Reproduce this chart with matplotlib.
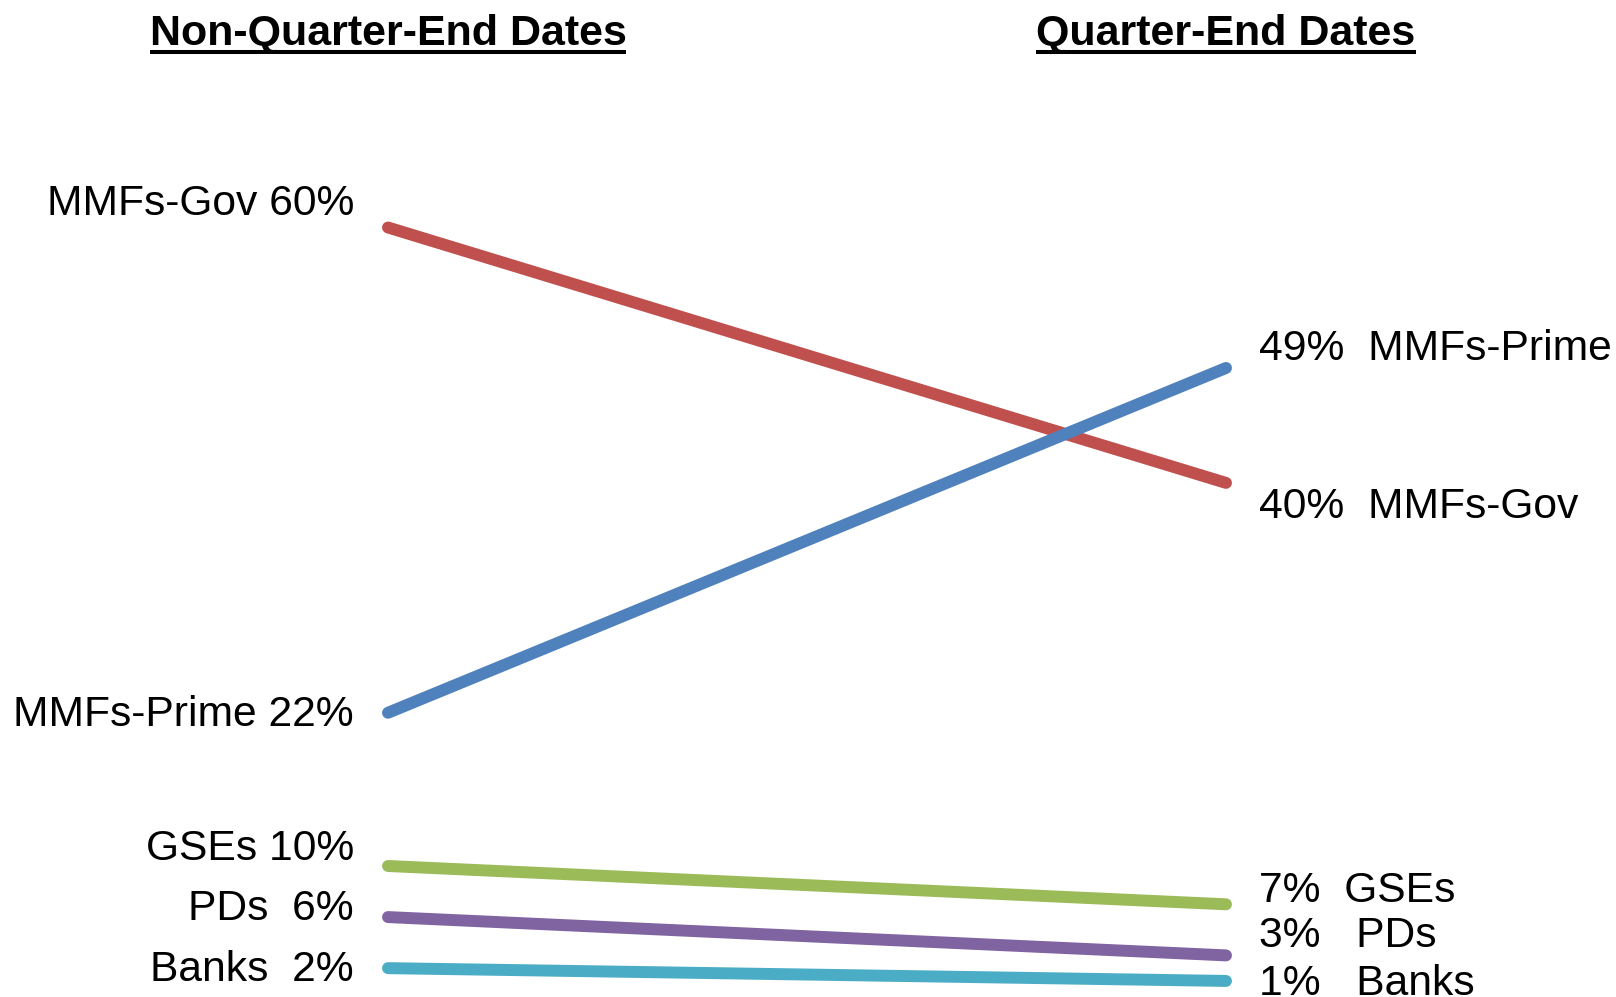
import matplotlib
matplotlib.use("Agg")
import matplotlib.pyplot as plt
from matplotlib.lines import Line2D

plt.rcParams['font.family'] = ['Liberation Sans', 'DejaVu Sans']

# ---- data ----
periods = ["Non-Quarter-End Dates", "Quarter-End Dates"]
series = ["MMFs-Gov", "MMFs-Prime", "GSEs", "PDs", "Banks"]
non_qe = [60, 22, 10, 6, 2]
qe = [40, 49, 7, 3, 1]
left_labels = ["MMFs-Gov 60%", "MMFs-Prime 22%", "GSEs 10%", "PDs  6%", "Banks  2%"]
right_labels = ["40%  MMFs-Gov", "49%  MMFs-Prime", "7%  GSEs", "3%   PDs", "1%   Banks"]
colors = ["#C0504D", "#4F81BD", "#9BBB59", "#8064A2", "#4BACC6"]

# label baseline offsets in pixels (positive = downward)
left_off = [-12.7, 13, -5.7, 3, 13]
right_off = [35.3, -7.5, -2, -8.3, 14]

W, H, DPI = 1616, 997, 100
fig = plt.figure(figsize=(W / DPI, H / DPI), dpi=DPI)
x0, x1 = 388, 1226
ytop, ybot = 227.5, 993.7
ax = fig.add_axes([x0 / W, (H - ybot) / H, (x1 - x0) / W, (ybot - ytop) / H])
ax.set_xlim(0, 1)
ax.set_ylim(0, 60)
ax.axis('off')

for name, a, b, c in zip(series, non_qe, qe, colors):
    ax.plot([0, 1], [a, b], color=c, lw=8.6, solid_capstyle='round', clip_on=False)

for lab, v, off in zip(left_labels, non_qe, left_off):
    ax.annotate(lab, xy=(0, v), xytext=(-34, -off), textcoords='offset pixels',
                ha='right', va='baseline', fontsize=30.7, annotation_clip=False)
for lab, v, off in zip(right_labels, qe, right_off):
    ax.annotate(lab, xy=(1, v), xytext=(33, -off), textcoords='offset pixels',
                ha='left', va='baseline', fontsize=30.7, annotation_clip=False)

# titles with underline
titles = []
for i, t in enumerate(periods):
    xf = (x0 + i * (x1 - x0)) / W
    titles.append(fig.text(xf, (H - 45) / H, t, ha='center', va='baseline',
                           fontsize=31, fontweight='bold'))

fig.canvas.draw()
r = fig.canvas.get_renderer()
for t in titles:
    bb = t.get_window_extent(renderer=r)
    yl = (H - 52) / H
    fig.add_artist(Line2D([bb.x0 / W, bb.x1 / W], [yl, yl], color='black',
                          lw=2.9, transform=fig.transFigure, solid_capstyle='butt'))

fig.savefig("out.png", dpi=DPI)
